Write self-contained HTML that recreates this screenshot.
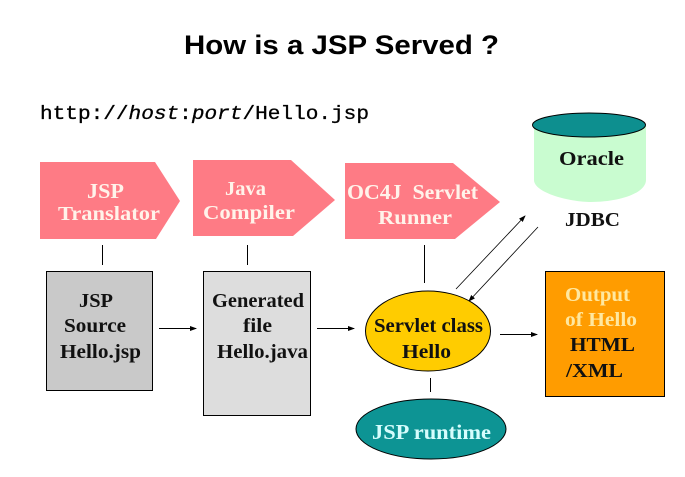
<!DOCTYPE html>
<html>
<head>
<meta charset="utf-8">
<style>
html,body{margin:0;padding:0;background:#fff;}
svg{display:block;}
text{font-family:"Liberation Serif",serif;font-size:20px;font-weight:bold;}
.w{fill:#fff3ea;}
.k{fill:#111;}
</style>
</head>
<body>
<svg width="685" height="477" viewBox="0 0 685 477" xmlns="http://www.w3.org/2000/svg">
<defs>
<marker id="a" markerWidth="7" markerHeight="6" refX="6" refY="3" orient="auto" markerUnits="userSpaceOnUse"><path d="M0 0.5L7 3L0 5.500Z" fill="#000"/></marker>
</defs>
<rect width="685" height="477" fill="#fff"/>
<text x="184" y="54" textLength="315" lengthAdjust="spacingAndGlyphs" style="font-family:'Liberation Sans',sans-serif;font-size:27px;font-weight:bold" fill="#000">How is a JSP Served ?</text>
<text x="40" y="119" textLength="329" lengthAdjust="spacingAndGlyphs" style="font-family:'Liberation Mono',monospace;font-size:19.500px;font-weight:normal;stroke:#000;stroke-width:.3px" fill="#000">http://<tspan font-style="italic">host</tspan>:<tspan font-style="italic">port</tspan>/Hello.jsp</text>

<polygon points="40,162 155,162 180,201 156,239 40,239" fill="#fe7b85"/>
<polygon points="193,160 291,160 335,200 293,236 193,236" fill="#fe7b85"/>
<polygon points="345,163 453,163 500,202 455,239 345,239" fill="#fe7b85"/>

<text class="w" x="87" y="198" textLength="37" lengthAdjust="spacingAndGlyphs" style="font-size:21px">JSP</text>
<text class="w" x="58" y="220" textLength="102" lengthAdjust="spacingAndGlyphs">Translator</text>
<text class="w" x="225" y="195" textLength="41" lengthAdjust="spacingAndGlyphs">Java</text>
<text class="w" x="203" y="219" textLength="92" lengthAdjust="spacingAndGlyphs">Compiler</text>
<text class="w" x="347" y="199" textLength="131" lengthAdjust="spacingAndGlyphs" xml:space="preserve" style="font-size:21px">OC4J  Servlet</text>
<text class="w" x="378" y="224" textLength="74" lengthAdjust="spacingAndGlyphs">Runner</text>

<g stroke="#000" stroke-width="1" fill="none">
<path d="M102.500 245V265M247.500 245V265M424.500 245V283M430.500 378V392"/>
<path d="M159 328.500H196" marker-end="url(#a)"/>
<path d="M317 328.500H354" marker-end="url(#a)"/>
<path d="M500 334.500H537" marker-end="url(#a)"/>
<path d="M456 289L525 216" stroke-width=".8" marker-end="url(#a)"/>
<path d="M538 227L469 301" stroke-width=".8" marker-end="url(#a)"/>
</g>

<rect x="46.500" y="271.500" width="106" height="119" fill="#c9c9c9" stroke="#000"/>
<rect x="203.500" y="271.500" width="107" height="144" fill="#dddddd" stroke="#000"/>
<text class="k" x="79" y="307" textLength="34" lengthAdjust="spacingAndGlyphs">JSP</text>
<text class="k" x="64" y="332" textLength="62" lengthAdjust="spacingAndGlyphs">Source</text>
<text class="k" x="60" y="358" textLength="81" lengthAdjust="spacingAndGlyphs">Hello.jsp</text>
<text class="k" x="212" y="307" textLength="92" lengthAdjust="spacingAndGlyphs">Generated</text>
<text class="k" x="243" y="332" textLength="29" lengthAdjust="spacingAndGlyphs">file</text>
<text class="k" x="217" y="358" textLength="91" lengthAdjust="spacingAndGlyphs">Hello.java</text>

<path d="M534 126V180C534 193 570 202 591 202C620 202 646 193 646 180V126Z" fill="#c9fcd0"/>
<ellipse cx="589" cy="125" rx="56.500" ry="12" fill="#0d8f8f" stroke="#000"/>
<text class="k" x="559" y="165" textLength="65" lengthAdjust="spacingAndGlyphs">Oracle</text>
<text class="k" x="565" y="226" textLength="55" lengthAdjust="spacingAndGlyphs">JDBC</text>

<ellipse cx="428" cy="331" rx="62.500" ry="40" fill="#ffcc00" stroke="#000"/>
<text class="k" x="374" y="332" textLength="109" lengthAdjust="spacingAndGlyphs">Servlet class</text>
<text class="k" x="402" y="358" textLength="49" lengthAdjust="spacingAndGlyphs">Hello</text>

<ellipse cx="431" cy="429" rx="75" ry="30" fill="#0d9494" stroke="#000"/>
<text x="372" y="439" textLength="119" lengthAdjust="spacingAndGlyphs" style="font-size:21.500px" fill="#d6fdfd">JSP runtime</text>

<rect x="545.500" y="271.500" width="119" height="125" fill="#ff9c00" stroke="#000"/>
<text x="565" y="301" textLength="65" lengthAdjust="spacingAndGlyphs" fill="#ffe8a0">Output</text>
<text x="565" y="326" textLength="72" lengthAdjust="spacingAndGlyphs" fill="#ffe8a0">of Hello</text>
<text class="k" x="570" y="351" textLength="65" lengthAdjust="spacingAndGlyphs">HTML</text>
<text class="k" x="566" y="377" textLength="57" lengthAdjust="spacingAndGlyphs">/XML</text>
</svg>
</body>
</html>
